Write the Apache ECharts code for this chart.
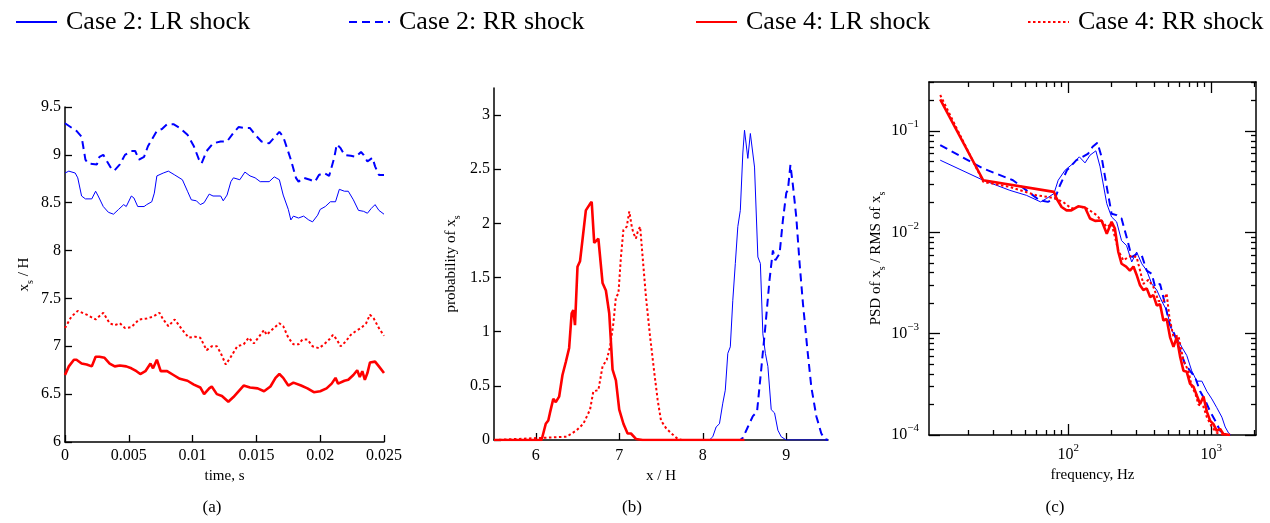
<!DOCTYPE html>
<html>
<head>
<meta charset="utf-8">
<script src="https://cdn.jsdelivr.net/npm/echarts@6/dist/echarts.min.js"></script>
<style>
  html, body { margin: 0; padding: 0; background: #fff; }
  #chart { width: 1270px; height: 523px; }
</style>
</head>
<body>
<div id="chart"></div>
<script>
// series names
const names = ['Case 2: LR shock', 'Case 2: RR shock', 'Case 4: LR shock', 'Case 4: RR shock'];

// (a) shock position vs time  [t (s), x_s/H]
const timeCase2LR = [[0,8.81],[0.0003,8.83],[0.0008,8.81],[0.001,8.76],[0.0013,8.57],[0.0016,8.54],[0.0021,8.54],[0.0024,8.62],[0.0026,8.57],[0.003,8.46],[0.0034,8.40],[0.0038,8.38],[0.0042,8.43],[0.0046,8.48],[0.0048,8.46],[0.0052,8.57],[0.0054,8.55],[0.0057,8.46],[0.0062,8.46],[0.0064,8.48],[0.0068,8.51],[0.007,8.60],[0.0072,8.78],[0.0077,8.81],[0.0081,8.83],[0.0086,8.79],[0.0092,8.74],[0.0096,8.62],[0.0099,8.53],[0.0103,8.52],[0.0106,8.48],[0.0109,8.50],[0.0113,8.59],[0.0116,8.57],[0.0122,8.57],[0.0124,8.52],[0.0127,8.58],[0.013,8.72],[0.0132,8.76],[0.0137,8.74],[0.0141,8.82],[0.0145,8.78],[0.0149,8.76],[0.0153,8.72],[0.016,8.72],[0.0164,8.77],[0.0168,8.74],[0.0171,8.58],[0.0175,8.43],[0.0177,8.32],[0.0179,8.36],[0.0183,8.34],[0.0187,8.36],[0.0191,8.32],[0.0194,8.30],[0.0198,8.37],[0.02,8.43],[0.0204,8.46],[0.0208,8.51],[0.0212,8.51],[0.0215,8.64],[0.0219,8.62],[0.0222,8.62],[0.0226,8.53],[0.023,8.42],[0.0234,8.41],[0.0237,8.39],[0.024,8.44],[0.0243,8.48],[0.0246,8.42],[0.025,8.38]];
const timeCase2RR = [[0,9.33],[0.0009,9.25],[0.0013,9.19],[0.0016,8.95],[0.0018,8.91],[0.0025,8.90],[0.0027,8.98],[0.003,9.0],[0.0033,8.93],[0.0037,8.84],[0.0039,8.84],[0.0043,8.90],[0.0047,9.0],[0.0052,9.04],[0.0055,9.04],[0.0058,8.95],[0.0062,8.98],[0.0065,9.09],[0.0072,9.25],[0.0076,9.27],[0.008,9.32],[0.0085,9.32],[0.009,9.28],[0.0096,9.21],[0.0101,9.09],[0.0105,8.95],[0.0107,8.91],[0.0111,9.04],[0.0116,9.12],[0.0122,9.14],[0.0127,9.14],[0.0132,9.23],[0.0136,9.29],[0.0141,9.28],[0.0145,9.28],[0.0149,9.21],[0.0154,9.14],[0.016,9.12],[0.0164,9.18],[0.0168,9.24],[0.0171,9.19],[0.0177,8.95],[0.0181,8.76],[0.0183,8.72],[0.0187,8.76],[0.0192,8.74],[0.0196,8.72],[0.0199,8.79],[0.0203,8.81],[0.0207,8.78],[0.0211,8.97],[0.0213,9.11],[0.0216,9.07],[0.0219,9.0],[0.0224,8.99],[0.0228,8.98],[0.0232,9.03],[0.0234,9.0],[0.0237,8.93],[0.0241,8.97],[0.0243,8.88],[0.0246,8.79],[0.025,8.79]];
const timeCase4LR = [[0,6.70],[0.0003,6.79],[0.0007,6.86],[0.0009,6.86],[0.0013,6.82],[0.0017,6.81],[0.0021,6.79],[0.0024,6.89],[0.0027,6.89],[0.0031,6.88],[0.0035,6.82],[0.0039,6.79],[0.0043,6.80],[0.0048,6.79],[0.0052,6.77],[0.0056,6.74],[0.0059,6.71],[0.0063,6.74],[0.0067,6.82],[0.0069,6.77],[0.0072,6.86],[0.0075,6.74],[0.008,6.74],[0.0085,6.70],[0.009,6.66],[0.0096,6.64],[0.0101,6.60],[0.0106,6.57],[0.0109,6.50],[0.0113,6.56],[0.0115,6.58],[0.0119,6.50],[0.0123,6.48],[0.0128,6.42],[0.0132,6.47],[0.0136,6.53],[0.014,6.59],[0.0145,6.57],[0.0151,6.56],[0.0156,6.53],[0.0161,6.58],[0.0165,6.67],[0.0168,6.71],[0.0171,6.67],[0.0175,6.59],[0.0179,6.62],[0.0185,6.59],[0.019,6.56],[0.0195,6.52],[0.02,6.53],[0.0205,6.56],[0.0209,6.61],[0.0212,6.67],[0.0214,6.61],[0.0219,6.64],[0.0222,6.65],[0.0226,6.70],[0.0229,6.75],[0.0231,6.68],[0.0233,6.74],[0.0235,6.65],[0.0237,6.72],[0.0239,6.83],[0.0243,6.84],[0.0246,6.79],[0.025,6.72]];
const timeCase4RR = [[0,7.19],[0.0005,7.31],[0.001,7.37],[0.0017,7.33],[0.0024,7.28],[0.003,7.35],[0.0035,7.24],[0.0039,7.22],[0.0043,7.24],[0.0047,7.19],[0.0052,7.20],[0.0058,7.28],[0.0064,7.29],[0.0069,7.31],[0.0074,7.35],[0.0077,7.28],[0.0081,7.21],[0.0086,7.28],[0.0092,7.17],[0.0097,7.09],[0.0102,7.10],[0.0106,7.09],[0.0111,6.96],[0.0115,7.0],[0.0119,7.0],[0.0122,6.93],[0.0126,6.81],[0.013,6.89],[0.0135,7.0],[0.014,7.02],[0.0144,7.09],[0.0148,7.03],[0.0152,7.10],[0.0156,7.17],[0.0158,7.12],[0.0162,7.17],[0.0168,7.24],[0.0171,7.21],[0.0175,7.09],[0.0179,7.02],[0.0183,7.02],[0.0186,7.07],[0.019,7.07],[0.0194,7.0],[0.0199,6.98],[0.0203,7.02],[0.0207,7.07],[0.021,7.12],[0.0213,7.07],[0.0216,7.0],[0.022,7.05],[0.0224,7.12],[0.0228,7.16],[0.0232,7.19],[0.0236,7.24],[0.0239,7.33],[0.0242,7.29],[0.0246,7.19],[0.025,7.11]];

// (b) probability of x_s  [x/H, pdf]
const pdfCase2LR = [[8.0,0],[8.08,0],[8.12,0.03],[8.16,0.12],[8.2,0.15],[8.24,0.34],[8.27,0.46],[8.3,0.8],[8.33,0.86],[8.36,1.29],[8.39,1.63],[8.42,1.97],[8.45,2.12],[8.48,2.65],[8.5,2.86],[8.54,2.60],[8.57,2.83],[8.59,2.83],[8.62,2.52],[8.66,1.69],[8.69,1.63],[8.72,0.98],[8.75,0.80],[8.78,0.68],[8.82,0.28],[8.86,0.25],[8.9,0.09],[8.94,0.03],[9.0,0],[9.5,0]];
const pdfCase2RR = [[8.4,0],[8.45,0],[8.48,0.02],[8.54,0.12],[8.6,0.22],[8.65,0.26],[8.7,0.65],[8.75,1.05],[8.8,1.48],[8.84,1.75],[8.87,1.66],[8.92,1.72],[8.96,2.03],[9.0,2.28],[9.02,2.31],[9.05,2.54],[9.08,2.35],[9.12,2.06],[9.16,1.63],[9.2,1.26],[9.25,0.86],[9.3,0.49],[9.36,0.22],[9.42,0.06],[9.46,0.01],[9.5,0]];
const pdfCase4LR = [[5.5,0],[6.07,0],[6.1,0.09],[6.12,0.15],[6.15,0.18],[6.17,0.25],[6.21,0.38],[6.24,0.35],[6.28,0.40],[6.32,0.60],[6.36,0.72],[6.4,0.85],[6.43,1.17],[6.45,1.20],[6.47,1.06],[6.5,1.60],[6.53,1.65],[6.56,1.85],[6.6,2.12],[6.62,2.12],[6.65,2.18],[6.67,2.20],[6.7,1.82],[6.75,1.86],[6.8,1.45],[6.84,1.38],[6.88,1.17],[6.92,0.65],[6.96,0.55],[7.0,0.28],[7.05,0.15],[7.1,0.06],[7.14,0.06],[7.2,0.01],[7.28,0],[8.5,0]];
const pdfCase4RR = [[5.5,0],[6.37,0.03],[6.49,0.09],[6.57,0.15],[6.65,0.28],[6.69,0.45],[6.75,0.46],[6.8,0.68],[6.85,0.74],[6.89,0.86],[6.93,1.08],[6.96,1.32],[6.99,1.35],[7.02,1.69],[7.05,1.94],[7.09,1.97],[7.12,2.11],[7.15,1.97],[7.17,1.91],[7.2,1.86],[7.22,1.92],[7.25,1.97],[7.28,1.69],[7.32,1.32],[7.37,0.95],[7.42,0.62],[7.46,0.37],[7.5,0.18],[7.56,0.11],[7.64,0.05],[7.7,0.01],[7.75,0],[8.5,0]];

// (c) PSD of x_s / RMS of x_s  [frequency (Hz), psd]
const psdCase2LR = [[12.7,0.0516],[25.4,0.0327],[39,0.026],[51,0.0232],[64,0.020],[70.5,0.0216],[79.4,0.0242],[85,0.0327],[95,0.0411],[108,0.0478],[119.5,0.0557],[131,0.0485],[142,0.0578],[156,0.0638],[167,0.0444],[186,0.0192],[201,0.0142],[218,0.0127],[236,0.0083],[256,0.0074],[278,0.0051],[301,0.0064],[327,0.0049],[354,0.0042],[384,0.0031],[416,0.0027],[451,0.0021],[488,0.0017],[530,0.00107],[574,0.00092],[622,0.00074],[675,0.00061],[731,0.00043],[794,0.00034],[861,0.00034],[933,0.00027],[1011,0.000227],[1095,0.000186],[1189,0.00015],[1254,0.00012],[1322,0.000105],[1373,0.0001]];
const psdCase2RR = [[12.7,0.0726],[25.4,0.0427],[41,0.0327],[51,0.026],[63,0.0207],[72,0.020],[80.7,0.0216],[87.5,0.0292],[98,0.0411],[114,0.0516],[126,0.0557],[138,0.060],[148,0.070],[160,0.0767],[171,0.0557],[186,0.028],[201,0.0153],[218,0.0148],[236,0.0137],[256,0.009],[278,0.0057],[301,0.0061],[327,0.0059],[354,0.0042],[384,0.0039],[405,0.0029],[439,0.0031],[475,0.00197],[510,0.00126],[551,0.001],[607,0.00068],[657,0.0005],[712,0.00043],[773,0.00037],[837,0.00027],[908,0.00022],[985,0.00017],[1066,0.000139],[1156,0.00011],[1254,0.0001]];
const psdCase4LR = [[12.7,0.206],[25.4,0.0327],[79.4,0.0251],[82.8,0.0216],[89.8,0.0178],[97.3,0.0165],[105,0.0165],[117.5,0.0181],[131,0.0176],[142,0.0137],[154,0.0130],[171,0.0131],[186,0.0097],[201,0.0127],[212,0.0109],[224,0.0064],[236,0.0049],[254,0.0046],[270,0.0042],[286,0.0046],[301,0.0038],[318,0.0030],[335,0.0027],[354,0.0028],[374,0.0023],[394,0.0024],[416,0.0019],[439,0.00195],[463,0.00135],[488,0.0014],[516,0.00092],[545,0.00074],[574,0.00092],[607,0.00059],[640,0.00043],[675,0.00042],[712,0.00032],[752,0.00030],[794,0.000245],[837,0.000202],[884,0.00024],[933,0.00017],[985,0.000138],[1038,0.000128],[1095,0.00011],[1156,0.000115],[1220,0.000102],[1358,0.0001]];
const psdCase4RR = [[12.7,0.227],[25.4,0.0315],[39,0.0281],[60,0.0232],[72.4,0.0224],[80.7,0.0216],[92,0.0200],[105,0.0172],[120,0.0180],[135,0.0172],[158,0.0148],[186,0.0113],[201,0.0122],[224,0.0066],[243,0.0053],[263,0.0057],[278,0.0059],[301,0.0057],[318,0.0042],[335,0.0031],[364,0.0034],[394,0.0029],[428,0.0021],[463,0.0021],[488,0.0025],[510,0.00146],[545,0.00093],[590,0.00096],[640,0.00054],[693,0.00043],[732,0.0003],[773,0.00026],[815,0.0002],[884,0.00019],[933,0.00015],[1011,0.00012],[1095,0.000105],[1220,0.0001]];

// tick values
const ticksAx = [0, 0.005, 0.01, 0.015, 0.02, 0.025];
const ticksAy = [6, 6.5, 7, 7.5, 8, 8.5, 9, 9.5];
const ticksBx = [6, 7, 8, 9];
const ticksBy = [0, 0.5, 1, 1.5, 2, 2.5, 3];
const ticksCxMajor = [100, 1000];
const ticksCxMinor = [20, 30, 40, 50, 60, 70, 80, 90, 200, 300, 400, 500, 600, 700, 800, 900, 2000];
const ticksCyMajor = [0.0001, 0.001, 0.01, 0.1];
const ticksCyMinor = [0.0002, 0.0003, 0.0004, 0.0005, 0.0006, 0.0007, 0.0008, 0.0009,
  0.002, 0.003, 0.004, 0.005, 0.006, 0.007, 0.008, 0.009,
  0.02, 0.03, 0.04, 0.05, 0.06, 0.07, 0.08, 0.09, 0.2, 0.3];

const FONT = 'Liberation Serif';
const BLUE = '#0000ff';
const RED = '#ff0000';
const lineStyles = [
  { color: BLUE, width: 1, type: 'solid' },
  { color: BLUE, width: 2, type: [8, 5] },
  { color: RED, width: 2.6, type: 'solid' },
  { color: RED, width: 2, type: [2.5, 2.5] }
];

const axisLine = { onZero: false, lineStyle: { color: '#000', width: 1.5 } };
const labelStyle = { color: '#000', fontFamily: FONT, fontSize: 16 };
const nameStyle = {
  color: '#000', fontFamily: FONT, fontSize: 15,
  rich: {
    n: { fontFamily: FONT, fontSize: 15, lineHeight: 22, color: '#000' },
    sub: { fontFamily: FONT, fontSize: 10, lineHeight: 10, verticalAlign: 'bottom', color: '#000' }
  }
};
const powRich = {
  b: { fontFamily: FONT, fontSize: 16, lineHeight: 24, color: '#000' },
  s: { fontFamily: FONT, fontSize: 11, lineHeight: 11, verticalAlign: 'top', color: '#000' }
};
const powFmt = v => '{b|10}{s|' + String(Math.round(Math.log10(v))).replace('-', '\u2212') + '}';

function logAxis(gridIndex, pos, min, max, major, minor, withLabel, extra) {
  const base = {
    type: 'log', gridIndex: gridIndex, position: pos, min: min, max: max,
    splitLine: { show: false }, minorTick: { show: false }
  };
  return [
    Object.assign({}, base, {
      axisLine: axisLine,
      axisTick: { inside: true, length: 11, customValues: major, lineStyle: { color: '#000', width: 1.3 } },
      axisLabel: withLabel
        ? { show: true, customValues: major, formatter: powFmt, rich: powRich, margin: withLabel }
        : { show: false }
    }, extra || {}),
    Object.assign({}, base, {
      axisLine: { show: false },
      axisTick: { inside: true, length: 5, customValues: minor, lineStyle: { color: '#000', width: 1.3 } },
      axisLabel: { show: false }
    })
  ];
}

const xC = [].concat(
  logAxis(2, 'bottom', 10.6, 2060, ticksCxMajor, ticksCxMinor, 8, {
    name: 'frequency, Hz', nameLocation: 'middle', nameGap: 23, nameTextStyle: nameStyle
  }),
  logAxis(2, 'top', 10.6, 2060, ticksCxMajor, ticksCxMinor, 0)
);
const yC = [].concat(
  logAxis(2, 'left', 0.0001, 0.305, ticksCyMajor, ticksCyMinor, 10, {
    name: '{n|PSD of x}{sub|s}{n| / RMS of x}{sub|s}', nameLocation: 'middle', nameGap: 36,
    nameRotate: 90, nameTextStyle: nameStyle
  }),
  logAxis(2, 'right', 0.0001, 0.305, ticksCyMajor, ticksCyMinor, 0)
);

function series(data, i, axisIdx) {
  return {
    name: names[i], type: 'line', data: data, xAxisIndex: axisIdx, yAxisIndex: axisIdx,
    showSymbol: false, symbol: 'none', smooth: false, lineStyle: lineStyles[i],
    itemStyle: { color: lineStyles[i].color }, emphasis: { disabled: true }
  };
}

const legendLeft = [10, 343, 690, 1022];

const option = {
  animation: false,
  backgroundColor: '#fff',
  textStyle: { fontFamily: FONT },
  legend: names.map((n, i) => ({
    data: [n], left: legendLeft[i], top: 4, itemWidth: 41, itemHeight: 14,
    selectedMode: false,
    itemStyle: { opacity: 0 },
    textStyle: { fontFamily: FONT, fontSize: 26, color: '#000', padding: [0, 0, 0, 4] }
  })),
  grid: [
    { left: 65, top: 107, width: 319, height: 335 },
    { left: 494, top: 88, width: 334, height: 352 },
    { left: 929, top: 82, width: 327, height: 353 }
  ],
  xAxis: [
    {
      type: 'value', gridIndex: 0, min: 0, max: 0.025, interval: 0.005,
      axisLine: axisLine, splitLine: { show: false },
      axisTick: { inside: true, length: 7, customValues: ticksAx, lineStyle: { color: '#000', width: 1.3 } },
      axisLabel: Object.assign({ margin: 6, customValues: ticksAx }, labelStyle),
      name: 'time, s', nameLocation: 'middle', nameGap: 19, nameTextStyle: nameStyle
    },
    {
      type: 'value', gridIndex: 1, min: 5.5, max: 9.5,
      axisLine: axisLine, splitLine: { show: false },
      axisTick: { inside: true, length: 7, customValues: ticksBx, lineStyle: { color: '#000', width: 1.3 } },
      axisLabel: Object.assign({ margin: 8, customValues: ticksBx }, labelStyle),
      name: 'x / H', nameLocation: 'middle', nameGap: 21, nameTextStyle: nameStyle
    }
  ].concat(xC),
  yAxis: [
    {
      type: 'value', gridIndex: 0, min: 6, max: 9.5, interval: 0.5,
      axisLine: axisLine, splitLine: { show: false },
      axisTick: { inside: true, length: 7, customValues: ticksAy, lineStyle: { color: '#000', width: 1.3 } },
      axisLabel: Object.assign({ margin: 4, customValues: ticksAy }, labelStyle),
      name: '{n|x}{sub|s}{n| / H}', nameLocation: 'middle', nameGap: 30, nameRotate: 90,
      nameTextStyle: nameStyle
    },
    {
      type: 'value', gridIndex: 1, min: 0, max: 3.25,
      axisLine: axisLine, splitLine: { show: false },
      axisTick: { inside: true, length: 7, customValues: ticksBy, lineStyle: { color: '#000', width: 1.3 } },
      axisLabel: Object.assign({ margin: 4, customValues: ticksBy }, labelStyle),
      name: '{n|probability of x}{sub|s}', nameLocation: 'middle', nameGap: 32, nameRotate: 90,
      nameTextStyle: nameStyle
    }
  ].concat(yC),
  graphic: [
    { type: 'text', x: 212, y: 508, style: { text: '(a)', font: '17px "Liberation Serif"', fill: '#000', align: 'center', verticalAlign: 'middle' } },
    { type: 'text', x: 632, y: 508, style: { text: '(b)', font: '17px "Liberation Serif"', fill: '#000', align: 'center', verticalAlign: 'middle' } },
    { type: 'text', x: 1055, y: 508, style: { text: '(c)', font: '17px "Liberation Serif"', fill: '#000', align: 'center', verticalAlign: 'middle' } }
  ],
  series: [
    series(timeCase2LR, 0, 0), series(timeCase2RR, 1, 0),
    series(timeCase4LR, 2, 0), series(timeCase4RR, 3, 0),
    series(pdfCase2LR, 0, 1), series(pdfCase2RR, 1, 1),
    series(pdfCase4LR, 2, 1), series(pdfCase4RR, 3, 1),
    series(psdCase2LR, 0, 2), series(psdCase2RR, 1, 2),
    series(psdCase4RR, 3, 2), series(psdCase4LR, 2, 2)
  ]
};

const chart = echarts.init(document.getElementById('chart'), null, { renderer: 'canvas' });
chart.setOption(option);
</script>
</body>
</html>
